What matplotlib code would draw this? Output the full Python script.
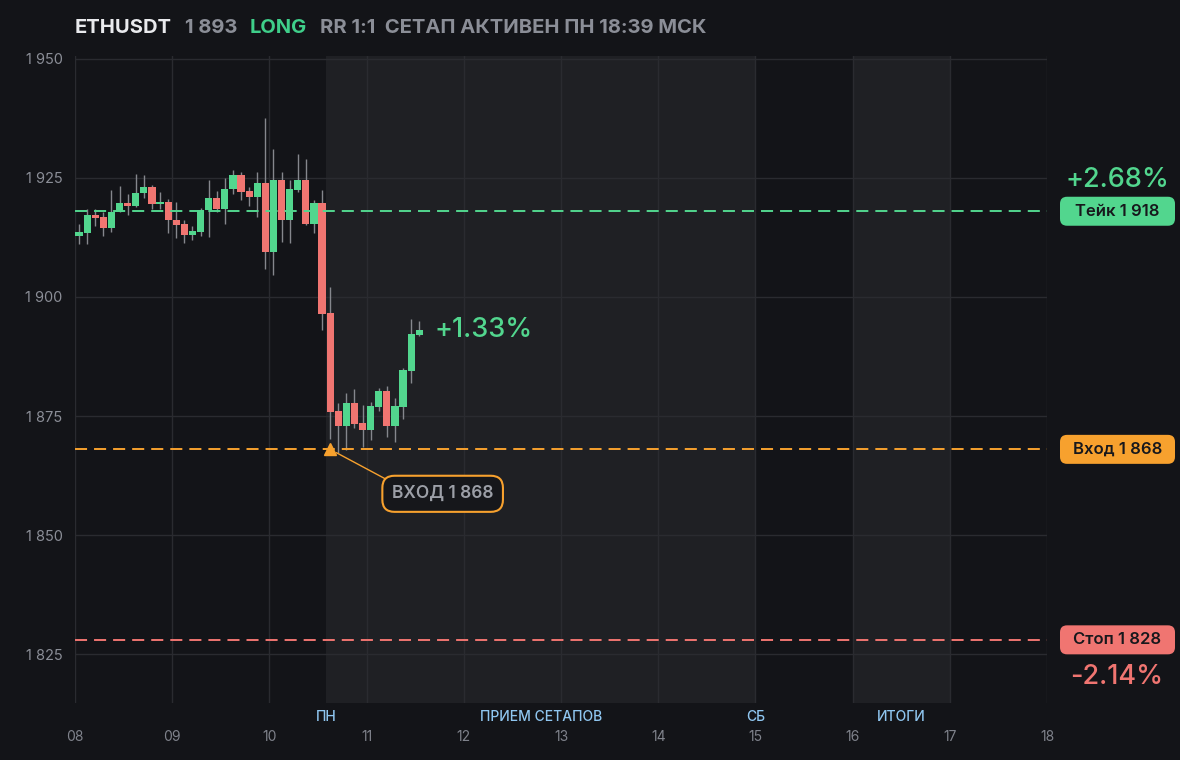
import matplotlib
matplotlib.use('Agg')
import matplotlib.pyplot as plt
import numpy as np
from matplotlib.patches import FancyBboxPatch
from matplotlib.transforms import IdentityTransform, blended_transform_factory
from matplotlib.ticker import FuncFormatter

plt.rcParams['font.family'] = ['Inter', 'DejaVu Sans']

# ---------------- data ----------------
symbol = "ETHUSDT"
last_price_label = "1 893"
side = "LONG"
status_text = "RR 1:1  СЕТАП АКТИВЕН ПН 18:39 МСК"

opens = [1912.9, 1913.4, 1917.2, 1916.8, 1914.4, 1917.9, 1919.7, 1919.2, 1921.8, 1923.1,
         1919.5, 1920.0, 1916.2, 1915.3, 1913.1, 1913.7, 1918.3, 1920.8, 1918.4, 1922.7,
         1925.6, 1922.3, 1920.9, 1924.0, 1909.5, 1924.6, 1916.2, 1922.5, 1924.6, 1915.3,
         1919.7, 1896.6, 1876.0, 1872.9, 1877.7, 1873.5, 1872.1, 1876.9, 1880.3, 1872.9,
         1876.9, 1884.5, 1892.0]
closes = [1913.7, 1917.2, 1916.6, 1914.4, 1917.9, 1919.7, 1919.2, 1921.8, 1923.1, 1919.6,
          1920.0, 1916.1, 1915.2, 1913.1, 1913.9, 1918.3, 1920.8, 1918.4, 1922.7, 1925.6,
          1922.1, 1920.9, 1924.0, 1909.5, 1924.6, 1916.2, 1922.7, 1924.6, 1915.3, 1919.7,
          1896.4, 1875.8, 1872.9, 1877.7, 1873.3, 1872.1, 1877.1, 1880.3, 1872.9, 1877.1,
          1884.7, 1892.2, 1893.1]
highs = [1915.3, 1918.5, 1918.5, 1917.9, 1922.5, 1923.3, 1921.6, 1925.8, 1925.6, 1923.5,
         1922.1, 1920.5, 1920.0, 1916.2, 1914.8, 1918.7, 1924.6, 1922.3, 1925.0, 1926.7,
         1926.3, 1923.1, 1926.3, 1937.6, 1931.1, 1926.3, 1924.6, 1930.0, 1929.0, 1920.4,
         1922.5, 1902.1, 1877.7, 1879.8, 1880.7, 1877.3, 1877.9, 1880.9, 1881.3, 1878.8,
         1885.1, 1895.4, 1895.0]
lows = [1911.1, 1911.1, 1914.8, 1912.8, 1913.7, 1917.9, 1917.2, 1918.8, 1920.8, 1918.5,
        1918.5, 1913.5, 1912.3, 1911.4, 1912.0, 1912.9, 1912.5, 1917.8, 1915.4, 1921.6,
        1920.4, 1919.0, 1916.7, 1905.9, 1904.7, 1911.6, 1911.4, 1922.1, 1915.2, 1913.4,
        1893.1, 1870.2, 1867.2, 1867.9, 1872.5, 1868.5, 1870.0, 1876.0, 1870.6, 1869.5,
        1874.4, 1882.0, 1891.8]

start_day = 8          # first candle day
candles_per_day = 12   # 2-hour candles

take_price = 1918
entry_price = 1868
stop_price = 1828
entry_candle = 31

take_label = "Тейк 1 918"
entry_label = "Вход 1 868"
stop_label = "Стоп 1 828"
entry_note = "ВХОД 1 868"
take_pct = "+2.68%"
stop_pct = "-2.14%"
current_pct = "+1.33%"

x_ticks = [8, 9, 10, 11, 12, 13, 14, 15, 16, 17, 18]
x_tick_labels = ["08", "09", "10", "11", "12", "13", "14", "15", "16", "17", "18"]
y_ticks = [1825, 1850, 1875, 1900, 1925, 1950]

zones = [(10 + 14 / 24, 15.0), (16.0, 17.0)]
zone_labels = ["ПН", "ПРИЕМ СЕТАПОВ", "СБ", "ИТОГИ"]
zone_label_x = [10 + 14 / 24, (10 + 14 / 24 + 15.0) / 2, 15.0, 16.5]

# ---------------- style ----------------
BG = '#131418'
ZONE = '#1f2024'
GRID = '#2a2b30'
GREEN = '#52d68e'
RED = '#f07571'
ORANGE = '#f7a12e'
WICK = '#85878d'
GRAY = '#8b8e97'
BLUE = '#8fc6f0'

W, H = 1180, 760
fig = plt.figure(figsize=(W / 100, H / 100), dpi=100, facecolor=BG)
ax = fig.add_axes([75 / W, (H - 702.7) / H, 972 / W, 646.7 / H])
ax.set_facecolor(BG)
ax.set_xlim(8, 18)
ax.set_ylim(1814.8, 1950.6)

for s in ax.spines.values():
    s.set_visible(False)

for z0, z1 in zones:
    ax.axvspan(z0, z1, color=ZONE, zorder=0, lw=0)

ax.set_xticks(x_ticks)
ax.set_xticklabels(x_tick_labels)
ax.set_yticks(y_ticks)
ax.yaxis.set_major_formatter(FuncFormatter(lambda v, p: f"{int(v):,}".replace(",", " ")))
ax.tick_params(axis='x', length=0, pad=20, labelsize=10, labelcolor='#7f828b')
ax.tick_params(axis='y', length=0, pad=9, labelsize=10.5, labelcolor=GRAY)
ax.grid(True, color=GRID, lw=1, zorder=1)
ax.set_axisbelow(True)

# candles
n = len(opens)
xs = np.array([start_day + (i + 0.5) / candles_per_day for i in range(n)])
o = np.array(opens); c = np.array(closes); h = np.array(highs); l = np.array(lows)
cols = [GREEN if cc >= oo else RED for oo, cc in zip(o, c)]
ax.vlines(xs, l, h, color=WICK, lw=1, zorder=3)
ax.bar(xs, np.maximum(np.abs(c - o), 0.35), bottom=np.minimum(o, c), width=0.074,
       color=cols, zorder=4, lw=0)

# level lines
for price, col in [(take_price, GREEN), (entry_price, ORANGE), (stop_price, RED)]:
    ax.axhline(price, color=col, lw=1.4, dashes=(6.2, 3.6), zorder=5)

# entry marker + note
ex = xs[entry_candle]
ax.plot([ex], [entry_price], marker='^', ms=9, color=ORANGE, zorder=7, lw=0)
ax.annotate(entry_note, xy=(ex, entry_price), xytext=(81, -32), textcoords='offset points',
            ha='center', va='center', color='#9c9fa7', fontsize=12.5, fontweight='semibold',
            bbox=dict(boxstyle='round,pad=0.55,rounding_size=0.7', fc='#16171b', ec=ORANGE, lw=1.5),
            arrowprops=dict(arrowstyle='-', color=ORANGE, lw=1, shrinkA=0, shrinkB=5,
                            relpos=(0.07, 0.95)),
            zorder=8)

# current pct
ax.text(xs[-1] + 0.155, c[-1], current_pct, color=GREEN, fontsize=19.5, fontweight='medium',
        ha='left', va='center', zorder=8)

# zone labels below axis
tb = blended_transform_factory(ax.transData, ax.transAxes)
for lx, lt in zip(zone_label_x, zone_labels):
    ax.text(lx, -(717 - 702.7) / 646.7, lt, transform=tb, ha='center', va='center',
            color=BLUE, fontsize=10, fontweight='medium', clip_on=False)

# right-side labels
fig.canvas.draw()
def ypix(v):
    return ax.transData.transform((8, v))[1]

ident = IdentityTransform()
for price, col, lab in [(take_price, GREEN, take_label), (entry_price, ORANGE, entry_label),
                        (stop_price, RED, stop_label)]:
    yp = ypix(price)
    box = FancyBboxPatch((1060, yp - 14.5), 115, 29, boxstyle='round,pad=0,rounding_size=7',
                         transform=ident, fc=col, ec='none')
    fig.add_artist(box)
    fig.text(1117.5 / W, yp / H, lab, ha='center', va='center', color='#17181c',
             fontsize=12, fontweight='semibold')

fig.text(1117 / W, (ypix(take_price) + 31) / H, take_pct, ha='center', va='center',
         color=GREEN, fontsize=19.5, fontweight='medium')
fig.text(1117 / W, (ypix(stop_price) - 37) / H, stop_pct, ha='center', va='center',
         color=RED, fontsize=19.5, fontweight='medium')

# title
ty = 1 - 28 / H
fig.text(75 / W, ty, symbol, color='#e9eaed', fontsize=14.5, fontweight='bold', va='center')
fig.text(185 / W, ty, last_price_label, color=GRAY, fontsize=14.5, fontweight='bold', va='center')
fig.text(250 / W, ty, side, color='#3fcf8a', fontsize=14.5, fontweight='bold', va='center')
fig.text(320 / W, ty, status_text, color=GRAY, fontsize=14.5, fontweight='bold', va='center')

fig.savefig('out.png', dpi=100, facecolor=BG)
